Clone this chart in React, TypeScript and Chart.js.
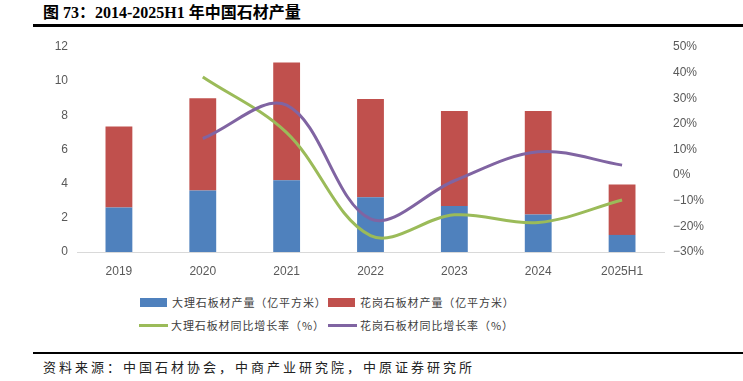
import React, { useEffect, useRef } from "react";
import { Chart, registerables } from "chart.js";

Chart.register(...registerables);

const categories = ["2019", "2020", "2021", "2022", "2023", "2024", "2025H1"];
const marbleOutput = [2.6, 3.6, 4.2, 3.2, 2.7, 2.2, 1.0];
const graniteOutput = [4.75, 5.4, 6.9, 5.75, 5.55, 6.05, 2.95];
const marbleYoY = [null, 38.3, 16.6, -23.6, -15.5, -18.5, -9.7];
const graniteYoY = [null, 14.3, 27.3, -17.1, -2.2, 9.1, 3.9];

const leftTicks = { min: 0, max: 12, step: 2 };
const rightTicks = { min: -30, max: 50, step: 10 };

const seriesNames = [
  "大理石板材产量（亿平方米）",
  "花岗石板材产量（亿平方米）",
  "大理石板材同比增长率（%）",
  "花岗石板材同比增长率（%）",
];
const seriesColors = ["#4F81BD", "#C0504D", "#9BBB59", "#8064A2"];

const titleText = "图 73：2014-2025H1 年中国石材产量";
const sourceText = "资料来源：中国石材协会，中商产业研究院，中原证券研究所";

const tickFont = { family: '"Liberation Sans", Arial, sans-serif', size: 12 };
const tickColor = "#595959";
const cjkFont = '"Noto Sans CJK SC", sans-serif';

export default function App() {
  const canvasRef = useRef<HTMLCanvasElement | null>(null);

  useEffect(() => {
    document.body.style.margin = "0";
    const canvas = canvasRef.current;
    if (!canvas) return;
    const chart = new Chart(canvas, {
      type: "bar",
      data: {
        labels: categories,
        datasets: [
          {
            type: "bar",
            label: seriesNames[0],
            data: marbleOutput,
            backgroundColor: seriesColors[0],
            stack: "s",
            yAxisID: "y",
            order: 2,
            categoryPercentage: 1,
            barPercentage: 0.32,
          },
          {
            type: "bar",
            label: seriesNames[1],
            data: graniteOutput,
            backgroundColor: seriesColors[1],
            stack: "s",
            yAxisID: "y",
            order: 2,
            categoryPercentage: 1,
            barPercentage: 0.32,
          },
          {
            type: "line",
            label: seriesNames[2],
            data: marbleYoY,
            borderColor: seriesColors[2],
            backgroundColor: seriesColors[2],
            borderWidth: 3,
            pointRadius: 0,
            tension: 0.35,
            yAxisID: "y1",
            order: 1,
          },
          {
            type: "line",
            label: seriesNames[3],
            data: graniteYoY,
            borderColor: seriesColors[3],
            backgroundColor: seriesColors[3],
            borderWidth: 3,
            pointRadius: 0,
            tension: 0.35,
            yAxisID: "y1",
            order: 0,
          },
        ] as any,
      },
      options: {
        responsive: false,
        animation: false,
        devicePixelRatio: 1,
        layout: { padding: { top: 47, bottom: 8, left: 0, right: 0 } },
        plugins: {
          legend: { display: false },
          tooltip: { enabled: false },
          title: { display: false },
        },
        scales: {
          x: {
            stacked: true,
            grid: { display: false, drawTicks: false },
            border: { display: true, color: "#D9D9D9", width: 1 },
            ticks: { color: tickColor, font: tickFont, padding: 12, maxRotation: 0 },
            afterFit: (s: any) => {
              s.height = 30;
            },
          },
          y: {
            position: "left",
            stacked: true,
            min: leftTicks.min,
            max: leftTicks.max,
            grid: { display: false, drawTicks: false },
            border: { display: false },
            ticks: { stepSize: leftTicks.step, color: tickColor, font: tickFont, padding: 9 },
            afterFit: (s: any) => {
              s.width = 77;
            },
          },
          y1: {
            position: "right",
            min: rightTicks.min,
            max: rightTicks.max,
            grid: { display: false, drawTicks: false },
            border: { display: false },
            ticks: {
              stepSize: rightTicks.step,
              color: tickColor,
              font: tickFont,
              padding: 9,
              callback: (v: any) => (Number(v) < 0 ? "\u2212" + Math.abs(Number(v)) : String(v)) + "%",
            },
            afterFit: (s: any) => {
              s.width = 79;
            },
          },
        },
      } as any,
    });
    return () => chart.destroy();
  }, []);

  const legendItems = [
    { left: 140, top: 302, kind: "box" },
    { left: 328, top: 302, kind: "box" },
    { left: 139, top: 325, kind: "line" },
    { left: 328, top: 325, kind: "line" },
  ];

  return (
    <div style={{ position: "relative", width: 743, height: 381, background: "#fff", overflow: "hidden" }}>
      <div
        style={{
          position: "absolute",
          left: 43,
          top: 4,
          fontFamily: '"Liberation Serif", "Noto Sans CJK SC", serif',
          fontWeight: "bold",
          fontSize: 16,
          lineHeight: "18px",
          color: "#000",
          whiteSpace: "nowrap",
        }}
      >
        {titleText}
      </div>
      <div style={{ position: "absolute", left: 33, top: 24, width: 710, height: 2.5, background: "#000" }} />
      <canvas ref={canvasRef} width={743} height={290} style={{ position: "absolute", left: 0, top: 0, width: 743, height: 290 }} />
      {legendItems.map((it, i) => (
        <React.Fragment key={i}>
          <div
            style={{
              position: "absolute",
              left: it.left,
              top: it.kind === "box" ? it.top - 4.5 : it.top - 1.5,
              width: it.kind === "box" ? 27 : 29,
              height: it.kind === "box" ? 9 : 3,
              background: seriesColors[i],
            }}
          />
          <div
            style={{
              position: "absolute",
              left: it.left + 32,
              top: it.top - 8,
              height: 16,
              lineHeight: "16px",
              fontFamily: cjkFont,
              fontSize: 11,
              letterSpacing: 0.9,
              color: "#404040",
              whiteSpace: "nowrap",
            }}
          >
            {seriesNames[i]}
          </div>
        </React.Fragment>
      ))}
      <div style={{ position: "absolute", left: 33, top: 352, width: 710, height: 1.5, background: "#000" }} />
      <div
        style={{
          position: "absolute",
          left: 43,
          top: 358,
          lineHeight: "18px",
          fontFamily: cjkFont,
          fontSize: 13,
          letterSpacing: 3,
          color: "#222",
          whiteSpace: "nowrap",
        }}
      >
        {sourceText}
      </div>
    </div>
  );
}
